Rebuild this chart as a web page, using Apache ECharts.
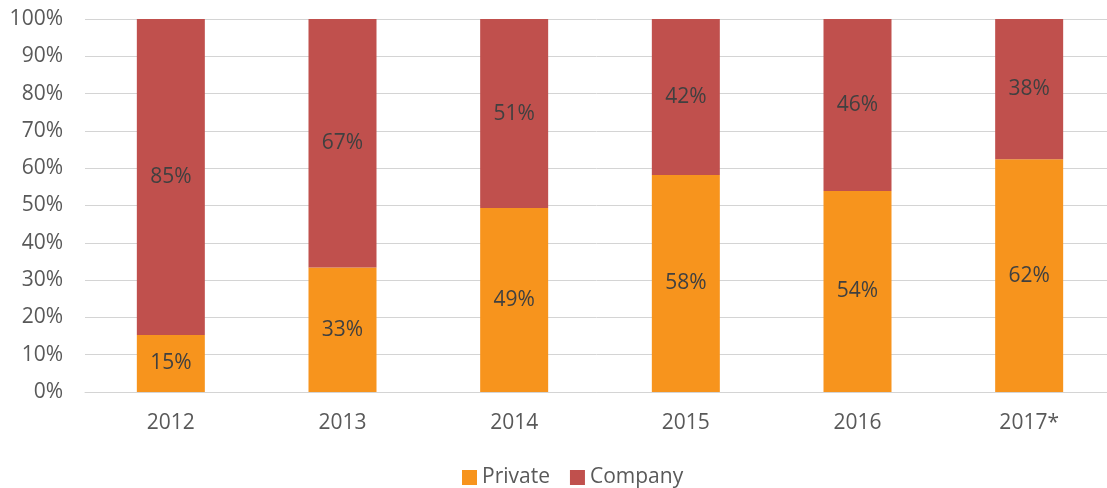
<!DOCTYPE html>
<html>
<head>
<meta charset="utf-8">
<script src="https://cdn.jsdelivr.net/npm/echarts@6/dist/echarts.min.js"></script>
<style>
  html, body { margin: 0; padding: 0; background: #fff; }
  #chart { width: 1107px; height: 488px; }
</style>
</head>
<body>
<div id="chart"></div>
<script>
// values (percent of each year)
const years = ['2012', '2013', '2014', '2015', '2016', '2017*'];
const privateShare = [15.3, 33.4, 49.3, 58.2, 53.9, 62.4];
const companyShare = [84.7, 66.6, 50.7, 41.8, 46.1, 37.6];

const FONT = '"Open Sans", "Liberation Sans", sans-serif';
const TEXT = '#595959';

const chart = echarts.init(document.getElementById('chart'));

const barLabel = {
  show: true,
  position: 'inside',
  color: '#404040',
  fontFamily: FONT,
  fontSize: 21,
  formatter: (p) => Math.round(p.value) + '%',
};

chart.setOption({
  animation: false,
  // plot area runs a little past the right edge in the original
  grid: { left: 85, right: -8, top: 19, bottom: 96, outerBoundsMode: 'none' },
  legend: {
    top: 462,
    left: 457,
    itemWidth: 15,
    itemHeight: 15,
    itemGap: 20,
    icon: 'rect',
    textStyle: { color: TEXT, fontFamily: FONT, fontSize: 21 },
    data: ['Private', 'Company'],
  },
  xAxis: {
    type: 'category',
    data: years,
    axisLine: { show: true, lineStyle: { color: '#d4d4d4', width: 1 } },
    axisTick: { show: false },
    axisLabel: { color: TEXT, fontFamily: FONT, fontSize: 21, margin: 21 },
  },
  yAxis: {
    type: 'value',
    min: 0,
    max: 100,
    interval: 10,
    axisLine: { show: false },
    axisTick: { show: false },
    splitLine: { lineStyle: { color: '#d4d4d4', width: 1 } },
    axisLabel: {
      color: TEXT, fontFamily: FONT, fontSize: 21, margin: 22,
      formatter: '{value}%',
    },
  },
  series: [
    {
      name: 'Private',
      type: 'bar',
      stack: 'total',
      barWidth: 68,
      data: privateShare,
      itemStyle: { color: '#F7941D' },
      label: barLabel,
    },
    {
      name: 'Company',
      type: 'bar',
      stack: 'total',
      barWidth: 68,
      data: companyShare,
      itemStyle: { color: '#C0504D' },
      label: barLabel,
    },
  ],
});
</script>
</body>
</html>
